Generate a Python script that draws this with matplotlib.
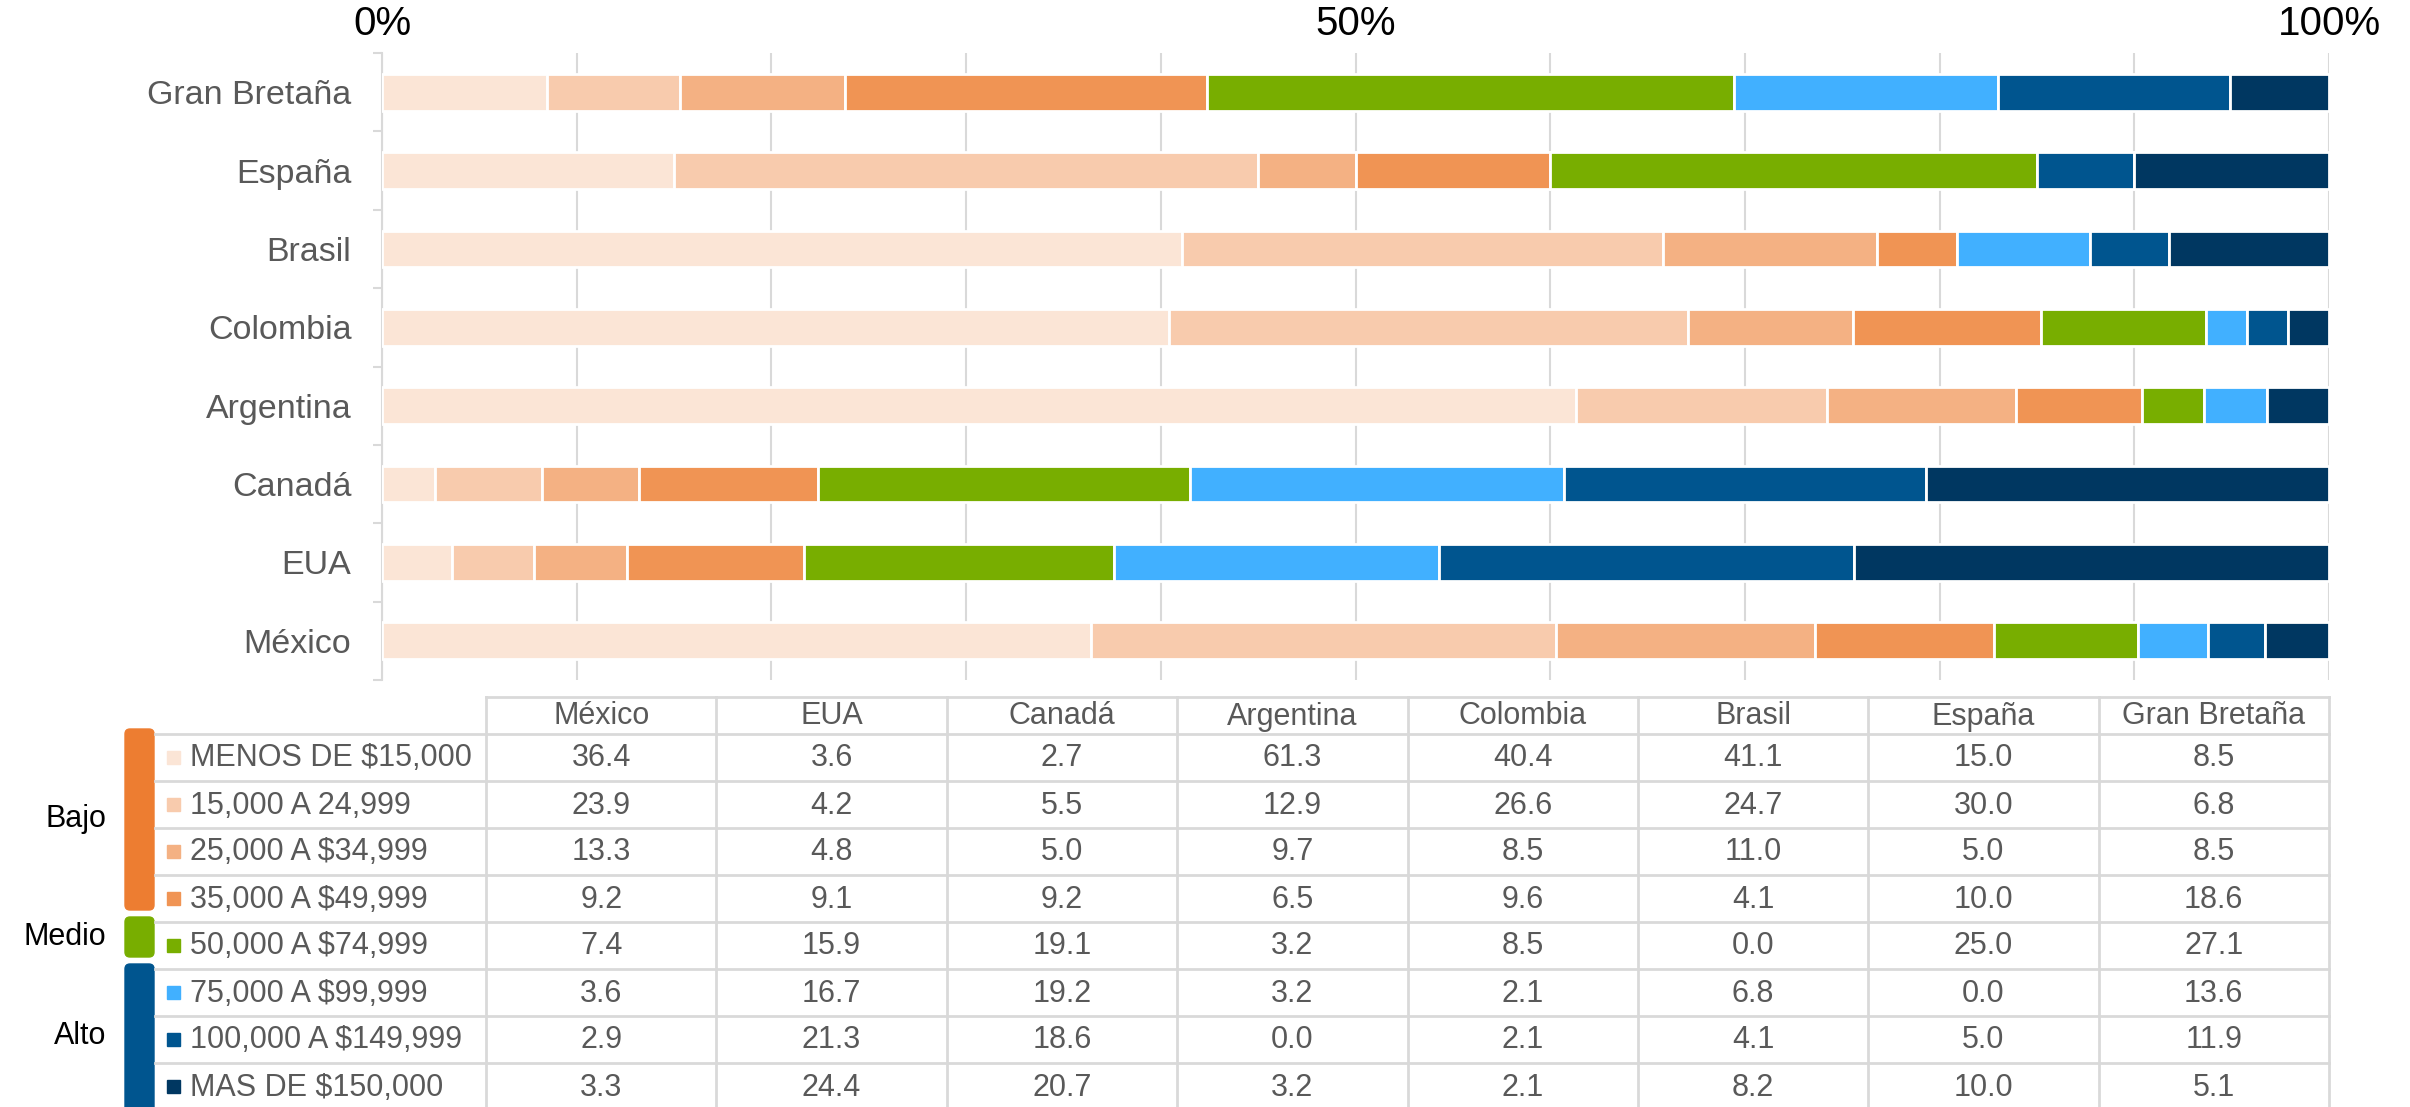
import numpy as np
import matplotlib.pyplot as plt
from matplotlib.patches import Rectangle, FancyBboxPatch

plt.rcParams['font.family'] = ['Liberation Sans', 'DejaVu Sans']

# Data (percent of households per income bracket)
countries = ['México', 'EUA', 'Canadá', 'Argentina', 'Colombia', 'Brasil', 'España', 'Gran Bretaña']
brackets = ['MENOS DE $15,000', '15,000 A 24,999', '25,000 A $34,999', '35,000 A $49,999',
            '50,000 A $74,999', '75,000 A $99,999', '100,000 A $149,999', 'MAS DE $150,000']
menos_15k = [36.4, 3.6, 2.7, 61.3, 40.4, 41.1, 15.0, 8.5]
r15_25k = [23.9, 4.2, 5.5, 12.9, 26.6, 24.7, 30.0, 6.8]
r25_35k = [13.3, 4.8, 5.0, 9.7, 8.5, 11.0, 5.0, 8.5]
r35_50k = [9.2, 9.1, 9.2, 6.5, 9.6, 4.1, 10.0, 18.6]
r50_75k = [7.4, 15.9, 19.1, 3.2, 8.5, 0.0, 25.0, 27.1]
r75_100k = [3.6, 16.7, 19.2, 3.2, 2.1, 6.8, 0.0, 13.6]
r100_150k = [2.9, 21.3, 18.6, 0.0, 2.1, 4.1, 5.0, 11.9]
mas_150k = [3.3, 24.4, 20.7, 3.2, 2.1, 8.2, 10.0, 5.1]
groups = ['Bajo', 'Medio', 'Alto']
group_rows = [(0, 3), (4, 4), (5, 7)]

values = np.array([menos_15k, r15_25k, r25_35k, r35_50k, r50_75k, r75_100k, r100_150k, mas_150k])
colors = ['#FBE5D6', '#F8CBAD', '#F4B183', '#F09454', '#78AE00', '#41B0FF', '#00558F', '#003761']
group_colors = ['#ED7D31', '#78AE00', '#00558F']
grid_col = '#D9D9D9'
text_col = '#595959'

W, H = 2410, 1107
fig = plt.figure(figsize=(W / 100, H / 100), dpi=100)

# ---- stacked 100% bar chart ----
ax = fig.add_axes([382 / W, 1 - 680 / H, 1947 / W, 627 / H])
shares = values / values.sum(axis=0) * 100
y = np.arange(len(countries))
left = np.zeros(len(countries))
for i in range(len(brackets)):
    ax.barh(y, shares[i], left=left, height=0.47, color=colors[i],
            edgecolor='white', linewidth=2, zorder=3)
    left += shares[i]

ax.set_xlim(0, 100)
ax.set_ylim(-0.5, len(countries) - 0.5)
ticks = np.arange(0, 101, 10)
ax.set_xticks(ticks)
ax.set_xticklabels([f'{t}%' if t in (0, 50, 100) else '' for t in ticks])
ax.xaxis.tick_top()
ax.tick_params(axis='x', length=0, pad=7, labelsize=29, labelcolor='black')
ax.grid(axis='x', color=grid_col, linewidth=1.5, zorder=0)
ax.set_axisbelow(True)

ax.set_yticks(y)
ax.set_yticklabels(countries)
ax.set_yticks(np.arange(-0.5, len(countries), 1), minor=True)
ax.tick_params(axis='y', which='major', length=0, pad=22, labelsize=24.5, labelcolor=text_col)
ax.tick_params(axis='y', which='minor', length=6.5, color=grid_col, width=1.5)
for s in ['top', 'right', 'bottom']:
    ax.spines[s].set_visible(False)
ax.spines['left'].set_color(grid_col)
ax.spines['left'].set_linewidth(1.5)

# ---- data table below ----
tax = fig.add_axes([0, 0, 1, 1])
tax.set_xlim(0, W)
tax.set_ylim(H, 0)
tax.axis('off')

col_left, col_right = 486, 2329
col_w = (col_right - col_left) / len(countries)
head_top, row_top, row_h = 697, 734, 47
label_left = 155
n_rows = len(brackets)

tax.plot([col_left, col_right], [head_top, head_top], color=grid_col, lw=2)
for k in range(n_rows + 1):
    yy = row_top + k * row_h
    tax.plot([label_left, col_right], [yy, yy], color=grid_col, lw=2)
for k in range(len(countries) + 1):
    xx = col_left + k * col_w
    tax.plot([xx, xx], [head_top, row_top + n_rows * row_h], color=grid_col, lw=2)

for j, c in enumerate(countries):
    tax.text(col_left + (j + 0.5) * col_w, (head_top + row_top) / 2 + 1, c,
             ha='center', va='center', fontsize=22, color=text_col)

for i, b in enumerate(brackets):
    yc = row_top + (i + 0.5) * row_h
    tax.add_patch(Rectangle((167, yc - 6.5), 13, 13, color=colors[i]))
    tax.text(190, yc + 1, b, ha='left', va='center', fontsize=22, color=text_col)
    for j in range(len(countries)):
        tax.text(col_left + (j + 0.5) * col_w, yc + 1, f'{values[i, j]:.1f}',
                 ha='center', va='center', fontsize=22, color=text_col)

# income group brackets
for g, (r0, r1), gc in zip(groups, group_rows, group_colors):
    top = row_top + r0 * row_h - 5
    bot = row_top + (r1 + 1) * row_h - 12 if r1 < n_rows - 1 else H + 20
    tax.add_patch(FancyBboxPatch((125, top), 29, bot - top,
                                 boxstyle='round,pad=0,rounding_size=5', color=gc))
    tax.text(106, (top + min(bot, H)) / 2, g, ha='right', va='center',
             fontsize=22, color='black')

fig.savefig('out.png', dpi=100)
